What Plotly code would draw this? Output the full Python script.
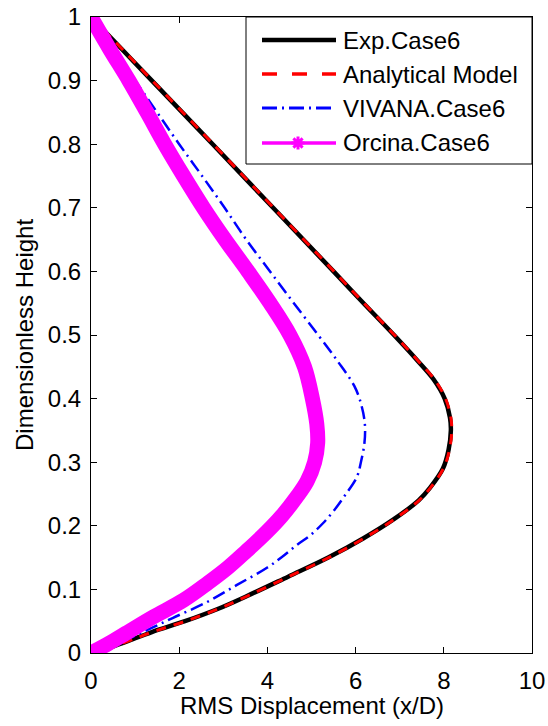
import plotly.graph_objects as go

# ---------------- data ----------------
exp_y = [1.0, 0.95, 0.90, 0.80, 0.70, 0.60, 0.55, 0.50, 0.46, 0.43, 0.40, 0.37, 0.35,
         0.32, 0.29, 0.26, 0.24, 0.21, 0.18, 0.15, 0.12, 0.09, 0.07, 0.05, 0.033, 0.016, 0.008]
exp_x = [0.0, 0.69, 1.38, 2.76, 4.13, 5.50, 6.18, 6.87, 7.40, 7.77, 8.02, 8.14, 8.16,
         8.11, 7.98, 7.69, 7.43, 6.86, 6.17, 5.38, 4.47, 3.55, 2.90, 2.13, 1.38, 0.73, 0.40]

ana_y = [1.0, 0.95, 0.90, 0.80, 0.70, 0.60, 0.55, 0.50, 0.46, 0.43, 0.40, 0.37, 0.35,
         0.32, 0.29, 0.26, 0.24, 0.21, 0.18, 0.15, 0.12, 0.09, 0.07, 0.05, 0.033, 0.016, 0.0]
ana_x = [0.0, 0.70, 1.39, 2.77, 4.14, 5.51, 6.19, 6.88, 7.41, 7.79, 8.04, 8.16, 8.18,
         8.13, 7.99, 7.70, 7.44, 6.87, 6.18, 5.39, 4.48, 3.56, 2.91, 2.14, 1.39, 0.74, 0.05]

viv_y = [1.0, 0.95, 0.90, 0.85, 0.80, 0.75, 0.70, 0.65, 0.60, 0.55, 0.50, 0.46, 0.42, 0.39,
         0.36, 0.33, 0.30, 0.277, 0.248, 0.225, 0.204, 0.185, 0.170, 0.151, 0.134, 0.107,
         0.079, 0.055, 0.036, 0.018, 0.0]
viv_x = [0.0, 0.50, 1.00, 1.50, 2.00, 2.52, 3.03, 3.52, 4.06, 4.60, 5.15, 5.58, 5.97, 6.13,
         6.21, 6.20, 6.12, 6.03, 5.76, 5.52, 5.26, 4.97, 4.67, 4.33, 3.99, 3.31,
         2.60, 1.85, 1.27, 0.70, 0.0]

orc_y = [1.0, 0.95, 0.90, 0.85, 0.80, 0.75, 0.70, 0.65, 0.60, 0.55, 0.50, 0.45, 0.40,
         0.36, 0.33, 0.30, 0.27, 0.245, 0.215, 0.19, 0.16, 0.134, 0.11, 0.083, 0.057,
         0.031, 0.015, 0.0]
orc_x = [0.0, 0.42, 0.86, 1.27, 1.67, 2.10, 2.55, 3.04, 3.56, 4.06, 4.51, 4.84, 5.02,
         5.12, 5.14, 5.07, 4.90, 4.66, 4.32, 3.98, 3.52, 3.10, 2.65, 2.10, 1.42,
         0.79, 0.40, 0.0]

series_names = ["Exp.Case6", "Analytical Model", "VIVANA.Case6", "Orcina.Case6"]
x_ticks = [0, 2, 4, 6, 8, 10]
y_ticks = [0, 0.1, 0.2, 0.3, 0.4, 0.5, 0.6, 0.7, 0.8, 0.9, 1]
y_tick_text = ["0", "0.1", "0.2", "0.3", "0.4", "0.5", "0.6", "0.7", "0.8", "0.9", "1"]

BLACK = "rgb(0,0,0)"
RED = "rgb(255,0,0)"
BLUE = "rgb(0,0,255)"
MAGENTA = "rgb(255,0,255)"
FONT = "Liberation Sans, Arial, Helvetica, sans-serif"
FS = 24

W, H = 548, 726
L, R, T, B = 91, 16, 17, 73
PW, PH = W - L - R, H - T - B

fig = go.Figure()
fig.add_trace(go.Scatter(x=exp_x, y=exp_y, mode="lines", name=series_names[0],
                         line=dict(color=BLACK, width=4.5, shape="spline", smoothing=1.0)))
fig.add_trace(go.Scatter(x=ana_x, y=ana_y, mode="lines", name=series_names[1],
                         line=dict(color=RED, width=3, dash="10px,8px", shape="spline", smoothing=1.0)))
fig.add_trace(go.Scatter(x=viv_x, y=viv_y, mode="lines", name=series_names[2],
                         line=dict(color=BLUE, width=2.5, dash="13px,5px,2px,5px",
                                   shape="spline", smoothing=1.0)))
fig.add_trace(go.Scatter(x=orc_x, y=orc_y, mode="lines", name=series_names[3],
                         line=dict(color=MAGENTA, width=15, shape="spline", smoothing=1.0)))

# ---------------- custom MATLAB-like legend ----------------
def px(xp):
    return (xp - L) / PW

def py(yp):
    return (H - B - yp) / PH

shapes = []
annotations = []
shapes.append(dict(type="rect", xref="paper", yref="paper", x0=px(246), x1=px(532),
                   y0=py(164), y1=py(17), line=dict(color=BLACK, width=1),
                   fillcolor="white", layer="above"))
rows = [40, 74, 108, 143]
styles = [dict(color=BLACK, width=4.5),
          dict(color=RED, width=3.5, dash="15px,15px"),
          dict(color=BLUE, width=3, dash="15px,5px,2px,5px"),
          dict(color=MAGENTA, width=3.5)]
for name, yy, st in zip(series_names, rows, styles):
    shapes.append(dict(type="line", xref="paper", yref="paper", x0=px(262), x1=px(336),
                       y0=py(yy), y1=py(yy), line=st, layer="above"))
    annotations.append(dict(text=name, xref="paper", yref="paper", x=px(341), y=py(yy),
                            xanchor="left", yanchor="middle", showarrow=False,
                            font=dict(family=FONT, size=FS, color=BLACK)))
# asterisk marker in legend
cx, cy, r = 298, 143, 6.5
d = 0.707 * r
path = (f"M{px(cx - r)},{py(cy)} L{px(cx + r)},{py(cy)} "
        f"M{px(cx)},{py(cy - r)} L{px(cx)},{py(cy + r)} "
        f"M{px(cx - d)},{py(cy - d)} L{px(cx + d)},{py(cy + d)} "
        f"M{px(cx - d)},{py(cy + d)} L{px(cx + d)},{py(cy - d)}")
shapes.append(dict(type="path", xref="paper", yref="paper", path=path,
                   line=dict(color=MAGENTA, width=3), layer="above"))

# axis titles
annotations.append(dict(text="RMS Displacement (x/D)", xref="paper", yref="paper",
                        x=0.5, y=py(705), xanchor="center", yanchor="middle",
                        showarrow=False, font=dict(family=FONT, size=FS, color=BLACK)))
annotations.append(dict(text="Dimensionless Height", xref="paper", yref="paper",
                        x=px(24), y=0.5, xanchor="center", yanchor="middle", textangle=-90,
                        showarrow=False, font=dict(family=FONT, size=FS, color=BLACK)))

fig.update_layout(
    width=W, height=H,
    margin=dict(l=L, r=R, t=T, b=B, autoexpand=False),
    paper_bgcolor="white", plot_bgcolor="white",
    showlegend=False,
    font=dict(family=FONT, size=FS, color=BLACK),
    shapes=shapes, annotations=annotations,
)
fig.update_xaxes(range=[0, 10], tickvals=x_ticks, ticks="inside", ticklen=6, tickwidth=1,
                 tickcolor=BLACK, showline=True, linecolor=BLACK, linewidth=1, mirror="ticks",
                 showgrid=False, zeroline=False, ticklabelstandoff=6, automargin=False,
                 tickfont=dict(family=FONT, size=FS, color=BLACK))
fig.update_yaxes(range=[0, 1], tickvals=y_ticks, ticktext=y_tick_text, ticks="inside",
                 ticklen=6, tickwidth=1, tickcolor=BLACK, showline=True, linecolor=BLACK,
                 linewidth=1, mirror="ticks", showgrid=False, zeroline=False,
                 ticklabelstandoff=4, automargin=False,
                 tickfont=dict(family=FONT, size=FS, color=BLACK))

fig.write_html("out.html", config={"displayModeBar": False},
               post_script="document.body.style.margin='0px';document.body.style.overflow='hidden';")
